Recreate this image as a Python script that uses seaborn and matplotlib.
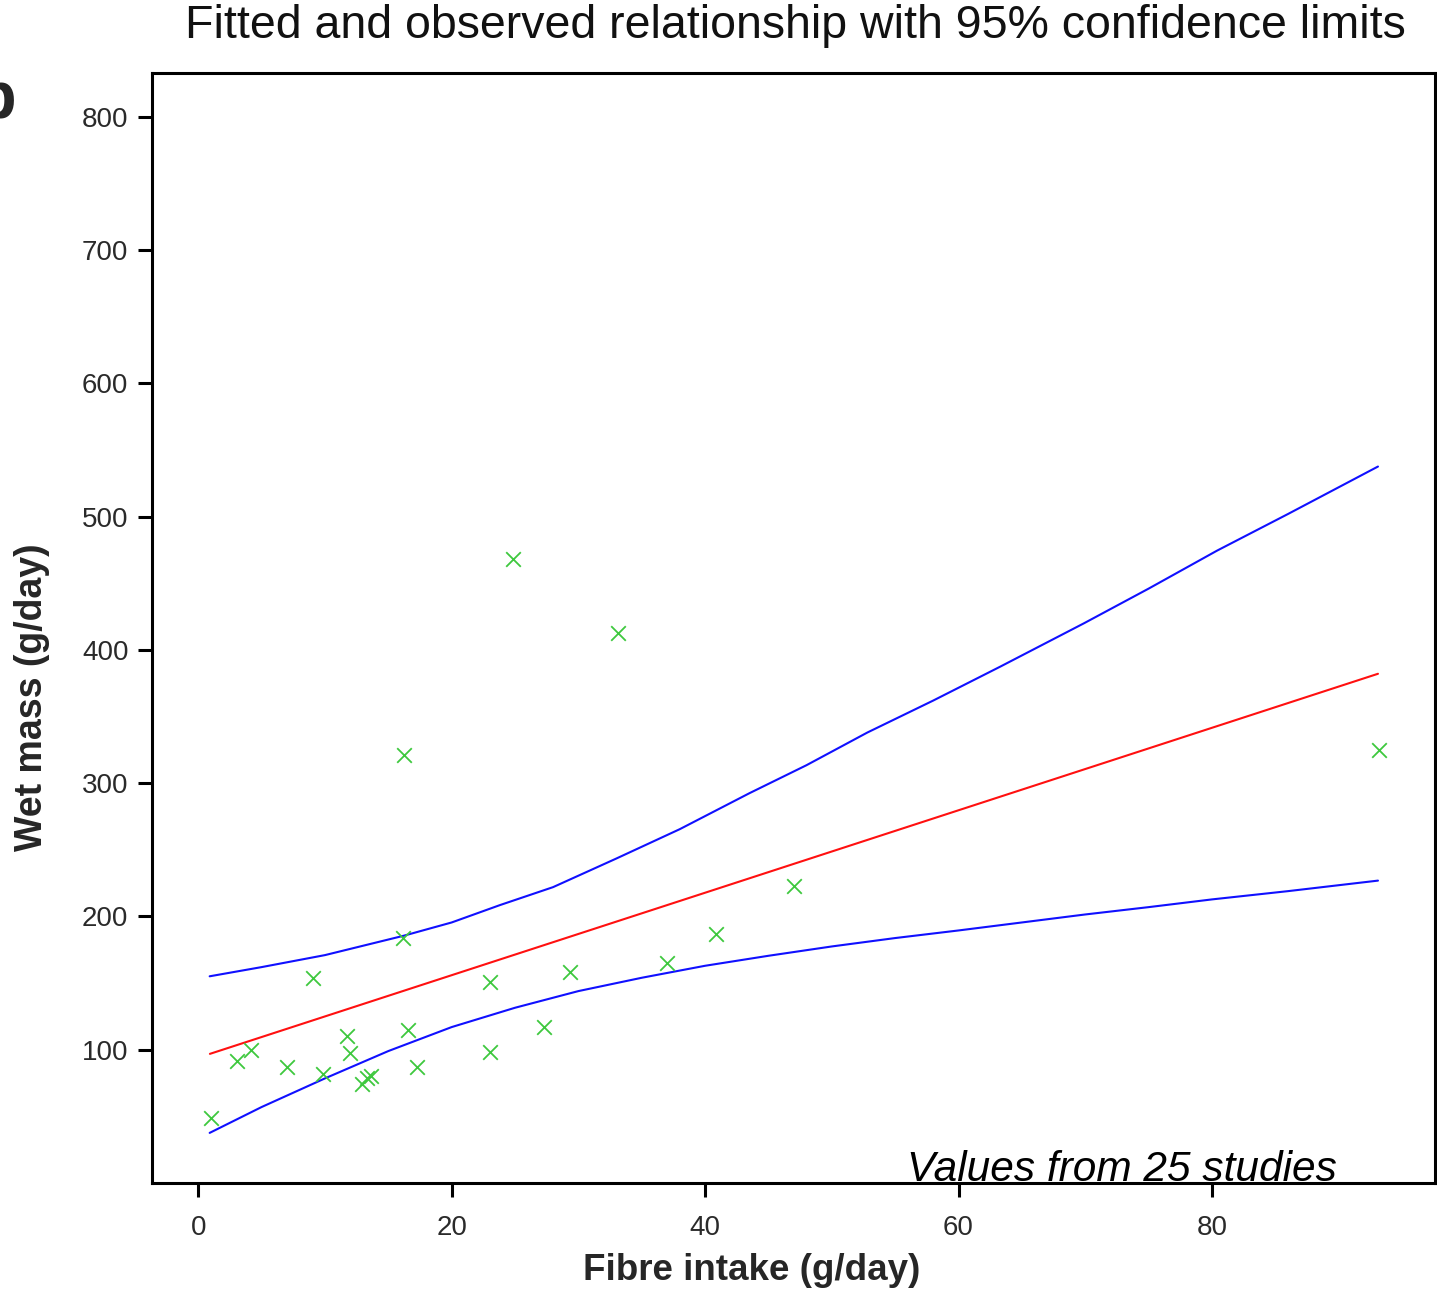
import matplotlib
matplotlib.use("Agg")
import matplotlib.pyplot as plt
import seaborn as sns
import pandas as pd

# Observed values (25 studies)
fibre = [0.98, 3.03, 4.16, 6.98, 9.03, 9.87, 11.71, 11.97, 12.9, 13.3, 13.6,
         16.2, 16.18, 16.58, 17.3, 23.0, 23.02, 24.81, 27.31, 29.34, 33.15,
         37.02, 40.84, 47.05, 93.2]
wet_mass = [49.0, 91.5, 99.6, 87.0, 154.0, 81.8, 110.0, 97.5, 74.5, 79.0, 80.5,
            321.5, 184.0, 115.0, 87.0, 150.6, 98.4, 468.5, 117.0, 158.5, 413.0,
            165.2, 187.0, 223.0, 325.0]

# Fitted line
fit_x = [0.92, 93.1]
fit_y = [96.9, 382.1]

# Upper 95% confidence limit
upper_x = [0.9, 5, 10, 16.2, 20, 23.8, 28, 33, 38, 43.5, 48, 52.8, 58, 63.3,
           69.9, 75, 80.4, 86, 93.1]
upper_y = [155.1, 162, 171, 185.5, 195.5, 208.5, 222, 243.5, 265.5, 292.5,
           313.5, 338, 362, 387.5, 420, 446, 474.5, 502, 537.6]

# Lower 95% confidence limit
lower_x = [0.9, 5, 10, 15, 20, 25, 30, 35, 40, 45, 50, 55, 60, 65, 70, 75,
           80, 86, 93.1]
lower_y = [37.6, 57, 78.5, 99, 117, 131.5, 144, 154, 163, 170.5, 177.5, 183.8,
           189.5, 195.5, 201.5, 207, 212.8, 219, 226.9]

x_ticks = [0, 20, 40, 60, 80]
y_ticks = [100, 200, 300, 400, 500, 600, 700, 800]

title = "Fitted and observed relationship with 95% confidence limits"
x_label = "Fibre intake (g/day)"
y_label = "Wet mass (g/day)"
note = "Values from 25 studies"

sns.set_style("white")
plt.rcParams['font.family'] = ['Liberation Sans', 'DejaVu Sans']

W, H = 1437, 1291
fig = plt.figure(figsize=(W / 100, H / 100), dpi=100)
ax = fig.add_axes([152 / W, 1 - 1183 / H, (1435 - 152) / W, (1183 - 73) / H])

obs = pd.DataFrame({"fibre": fibre, "wet": wet_mass})
fit = pd.DataFrame({"x": fit_x, "y": fit_y})
up = pd.DataFrame({"x": upper_x, "y": upper_y})
lo = pd.DataFrame({"x": lower_x, "y": lower_y})

sns.lineplot(data=up, x="x", y="y", ax=ax, color="#1010ff", lw=1.5,
             estimator=None, sort=True)
sns.lineplot(data=lo, x="x", y="y", ax=ax, color="#1010ff", lw=1.5,
             estimator=None, sort=True)
sns.lineplot(data=fit, x="x", y="y", ax=ax, color="#ff1010", lw=1.5,
             estimator=None, sort=True)
sns.scatterplot(data=obs, x="fibre", y="wet", ax=ax, marker="x", s=110,
                color="#3ec83e", linewidth=1.3, zorder=5)

ax.set_xlim(-3.65, 97.6)
ax.set_ylim(0, 832.9)
ax.set_xticks(x_ticks)
ax.set_yticks(y_ticks)
ax.tick_params(axis="both", direction="out", length=10, width=2.2,
               labelsize=20, labelcolor="#2a2a2a", color="black", pad=7,
               bottom=True, left=True)
ax.tick_params(axis="x", pad=13)
for sp in ax.spines.values():
    sp.set_linewidth(2.2)
    sp.set_color("black")
    sp.set_visible(True)

ax.set_xlabel("")
ax.set_ylabel("")
fig.text(752 / W, 1 - 1270 / H, x_label, ha="center", va="center",
         fontsize=26.5, fontweight="bold")
fig.text(32 / W, 1 - 697 / H, y_label, ha="center", va="center",
         rotation=90, fontsize=27, fontweight="bold")
fig.text(795 / W, 1 - 26 / H, title, ha="center", va="center",
         fontsize=33.5, color="#111111")
ax.text(55.9, 1.5, note, ha="left", va="baseline", fontsize=30.5,
        style="italic", color="black")
fig.text(16 / W, 1 - 117 / H, "b", ha="right", va="baseline",
         fontsize=48, fontweight="bold")

fig.savefig("out.png", dpi=100)
